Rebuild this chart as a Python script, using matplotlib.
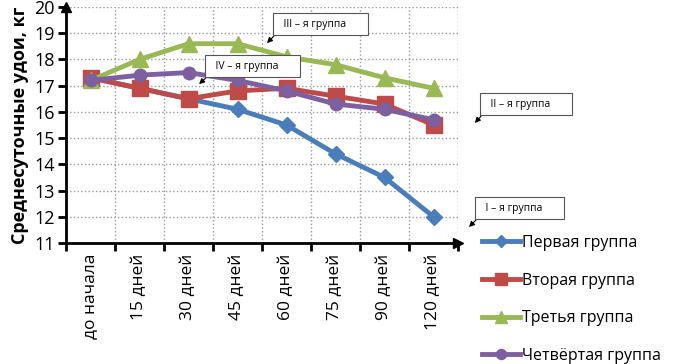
import numpy as np
import matplotlib.pyplot as plt

categories = ["до начала", "15 дней", "30 дней", "45 дней", "60 дней", "75 дней", "90 дней", "120 дней"]
group1 = [17.3, 16.9, 16.5, 16.1, 15.5, 14.4, 13.5, 12.0]
group2 = [17.3, 16.9, 16.5, 16.8, 16.9, 16.6, 16.3, 15.5]
group3 = [17.2, 18.0, 18.6, 18.6, 18.1, 17.8, 17.3, 16.9]
group4 = [17.2, 17.4, 17.5, 17.2, 16.8, 16.3, 16.1, 15.7]
names = ["Первая группа", "Вторая группа", "Третья группа", "Четвёртая группа"]
callouts = ["I – я группа", "II – я группа", "III – я группа", "IV – я группа"]

W, H = 683, 364
fig = plt.figure(figsize=(W / 100, H / 100), dpi=100)
plt.rcParams['font.family'] = ['Open Sans', 'DejaVu Sans']


def fx(px):
    return px / W


def fy(py):
    return 1 - py / H


ax = fig.add_axes([fx(66), fy(243), fx(458) - fx(66), fy(7) - fy(243)])

x = np.arange(len(categories))
styles = [
    (group1, '#4a7ebb', 'D', 8),
    (group2, '#be4b48', 's', 11),
    (group3, '#98b954', '^', 11),
    (group4, '#7d60a0', 'o', 9),
]
for (vals, col, mk, ms), name in zip(styles, names):
    ax.plot(x, vals, color=col, marker=mk, markersize=ms, linewidth=3.5, label=name)

ax.set_xlim(-0.5, len(categories) - 0.5)
ax.set_ylim(11, 20)
ax.set_yticks(range(11, 21))
ax.set_xticks(x)
ax.set_xticklabels(categories, rotation=90, fontsize=12.5)
ax.tick_params(axis='x', length=0, pad=8)
ax.set_xticks(np.arange(-0.5, len(categories) + 0.5, 1), minor=True)
ax.tick_params(axis='x', which='minor', length=6, width=2, direction='out')
ax.tick_params(axis='y', labelsize=13, length=6, width=2, direction='out', pad=2)

ax.grid(False)
for xv in np.arange(0.5, len(categories), 1):
    ax.axvline(xv, color='#999999', linestyle=':', linewidth=1, zorder=0)
for yv in range(12, 21):
    ax.axhline(yv, color='#999999', linestyle=':', linewidth=1, zorder=0)

for s in ['top', 'right']:
    ax.spines[s].set_visible(False)
for s in ['left', 'bottom']:
    ax.spines[s].set_linewidth(2)
ax.plot(1, 0, '>', color='black', markersize=7, transform=ax.transAxes, clip_on=False)
ax.plot(0, 1, '^', color='black', markersize=7, transform=ax.transAxes, clip_on=False)

ax.set_ylabel("Среднесуточные удои, кг", fontsize=13, fontweight='bold', labelpad=4)

leg = fig.legend(loc='upper left', bbox_to_anchor=(fx(482), fy(235)), frameon=False,
                 fontsize=11.5, handlelength=2.4, labelspacing=1.35, handletextpad=0.1,
                 borderaxespad=0, borderpad=0, markerscale=0.8)

boxes = [
    (callouts[0], (480, 208), (467, 229)),
    (callouts[1], (485, 104), (473, 125)),
    (callouts[2], (278, 24), (265, 45)),
    (callouts[3], (210, 66), (197, 86)),
]
for txt, (tx, ty), (axp, ayp) in boxes:
    fig.text(fx(tx), fy(ty), "  " + txt + "      ", fontsize=7.5, va='center', ha='left',
             bbox=dict(boxstyle='square,pad=0.5', fc='white', ec='#555555', lw=0.8))
    ax.annotate("", xy=(fx(axp), fy(ayp)), xycoords='figure fraction',
                xytext=(fx(tx - 2), fy(ty + 10)), textcoords='figure fraction',
                arrowprops=dict(arrowstyle='-|>', color='black', lw=0.8, mutation_scale=8),
                annotation_clip=False)

fig.savefig("out.png", dpi=100)
